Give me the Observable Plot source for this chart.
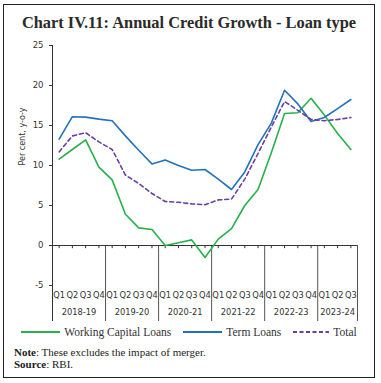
<!DOCTYPE html>
<html>
<head>
<meta charset="utf-8">
<script src="https://cdn.jsdelivr.net/npm/d3@7"></script>
<script src="https://cdn.jsdelivr.net/npm/@observablehq/plot@0.6"></script>
<style>
  body { margin: 0; background: #fff; }
  #box { position: absolute; left: 3px; top: 4px; width: 370px; height: 372px; border: 1px solid #222; background: #fff; }
  #title { height: 33px; line-height: 35px; text-align: center; font-family: "Liberation Serif", serif; font-weight: bold; font-size: 16.4px; color: #2a2a2a; }
  #legend { height: 22px; display: flex; justify-content: center; align-items: center; font-family: "Liberation Serif", serif; font-size: 11.5px; color: #333; }
  #legend .item { display: flex; align-items: center; margin: 0 6px; }
  #legend svg { margin-right: 4px; }
  #notes { margin-top: 3px; padding-left: 10px; font-family: "Liberation Serif", serif; font-size: 11px; line-height: 12px; color: #222; }
</style>
</head>
<body>
<div id="box">
  <div id="title">Chart IV.11: Annual Credit Growth - Loan type</div>
  <div id="chart"></div>
  <div id="legend"></div>
  <div id="notes">
    <div><b>Note</b>: These excludes the impact of merger.</div>
    <div><b>Source</b>: RBI.</div>
  </div>
</div>
<script>
const years = ["2018-19", "2019-20", "2020-21", "2021-22", "2022-23", "2023-24"];
const quarterCounts = [4, 4, 4, 4, 4, 3];
const yTicks = [-5, 0, 5, 10, 15, 20, 25];
const seriesNames = ["Working Capital Loans", "Term Loans", "Total"];
const seriesColors = ["#27b04b", "#2272bd", "#6a3fa0"];

const workingCapital = [10.8, 12.0, 13.2, 9.8, 8.2, 3.9, 2.2, 2.0, 0.0, 0.35, 0.7, -1.5, 0.8, 2.1, 5.0, 7.0, 11.6, 16.5, 16.6, 18.4, 16.3, 14.0, 12.0];
const termLoans = [13.3, 16.1, 16.05, 15.8, 15.6, 13.7, 11.9, 10.2, 10.7, 10.0, 9.4, 9.5, 8.3, 7.0, 9.2, 12.6, 15.3, 19.4, 17.7, 15.5, 16.0, 17.1, 18.25];
const total = [11.7, 13.7, 14.1, 12.95, 12.0, 8.8, 7.75, 6.5, 5.5, 5.4, 5.2, 5.1, 5.7, 5.8, 8.3, 11.5, 14.8, 18.0, 16.9, 15.75, 15.6, 15.75, 16.0];

const n = workingCapital.length;
const idx = d3.range(n);
const qLabels = years.flatMap((y, i) => d3.range(quarterCounts[i]).map(q => "Q" + (q + 1)));
const bounds = [-0.5];
const centers = [];
let cum = 0;
quarterCounts.forEach(c => { centers.push(cum + (c - 1) / 2); cum += c; bounds.push(cum - 0.5); });

const yMin = -9.5;
const yMax = d3.max(yTicks);
const series = [workingCapital, termLoans, total];

const chart = Plot.plot({
  width: 370,
  height: 283,
  marginLeft: 48,
  marginRight: 17,
  marginTop: 7,
  marginBottom: 0,
  style: { fontFamily: "DejaVu Sans, sans-serif", fontSize: "8px", color: "#333", background: "transparent" },
  x: { type: "linear", domain: [-0.5, n - 0.5], axis: null },
  y: { domain: [yMin, yMax] },
  marks: [
    Plot.axisY({ ticks: yTicks, tickSize: 3, tickPadding: 6, label: null, fontSize: 8.5, tickFormat: d => String(d) }),
    Plot.ruleX([bounds[0]], { y1: yMin, y2: yMax, stroke: "#333", strokeWidth: 1 }),
    Plot.ruleX(bounds.slice(1), { y1: 0, y2: yMin, stroke: "#555", strokeWidth: 1 }),
    Plot.ruleY([0], { stroke: "#333", strokeWidth: 1 }),
    Plot.ruleX(idx, { y1: 0, y2: -0.4, stroke: "#333", strokeWidth: 1 }),
    Plot.text(idx, { x: d => d, text: d => qLabels[d], frameAnchor: "bottom", dy: -24, fontSize: 8.3, fill: "#333" }),
    Plot.text(years, { x: (d, i) => centers[i], text: d => d, frameAnchor: "bottom", dy: -7, fontSize: 8.3, fill: "#333" }),
    Plot.text(["Per cent, y-o-y"], { y: d3.mean([d3.min(yTicks), yMax]), text: d => d, frameAnchor: "left", rotate: -90, dx: -30, fontSize: 8, fill: "#333" }),
    ...series.map((s, k) => Plot.line(s, {
      x: (d, i) => i, y: d => d,
      stroke: seriesColors[k], strokeWidth: 1.6,
      strokeDasharray: k === 2 ? "4,3" : null
    }))
  ]
});
document.getElementById("chart").appendChild(chart);

const legend = document.getElementById("legend");
seriesNames.forEach((name, k) => {
  const item = document.createElement("div");
  item.className = "item";
  const w = k === 2 ? 36 : 39;
  item.innerHTML = `<svg width="${w}" height="4"><line x1="0" x2="${w}" y1="2" y2="2" stroke="${seriesColors[k]}" stroke-width="2" ${k === 2 ? 'stroke-dasharray="4,2.5"' : ''}/></svg><span>${name}</span>`;
  legend.appendChild(item);
});
</script>
</body>
</html>
